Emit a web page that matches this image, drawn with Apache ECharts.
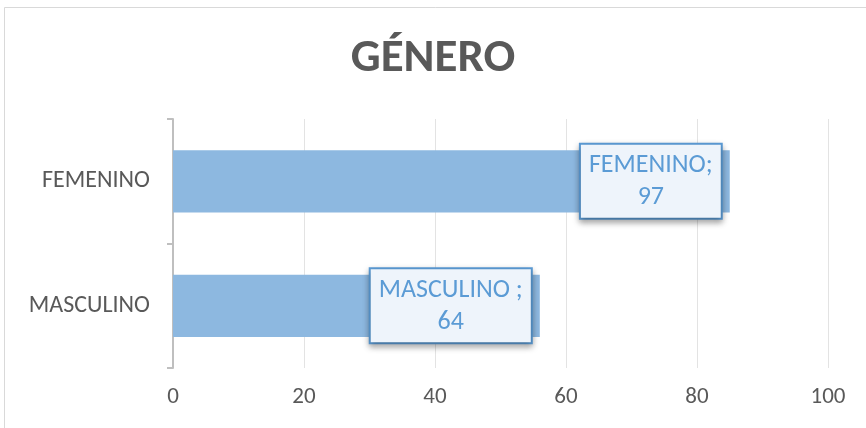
<!DOCTYPE html>
<html><head><meta charset="utf-8">
<script src="https://cdn.jsdelivr.net/npm/echarts@6/dist/echarts.min.js"></script>
<style>html,body{margin:0;padding:0;background:#fff;}#c{width:866px;height:428px;}</style>
</head><body><div id="c"></div>
<script>
const categories = ['FEMENINO', 'MASCULINO'];
const barValues = [85, 56];
const labelValues = [97, 64];
const labelNames = ['FEMENINO;', 'MASCULINO ;'];
const ticks = [0, 20, 40, 60, 80, 100];

const FONT = "Carlito, 'Liberation Sans Narrow', 'Open Sans', sans-serif";
const chart = echarts.init(document.getElementById('c'));
chart.setOption({
  animation: false,
  backgroundColor: '#fff',
  graphic: [{type:'rect', shape:{x:4.5,y:7.5,width:900,height:500}, style:{fill:'none', stroke:'#D9D9D9', lineWidth:1}, silent:true}],
  title: {text: 'GÉNERO', left: 'center', top: 31, textStyle:{fontFamily: FONT, fontSize: 47, fontWeight:'bold', color:'#595959'}},
  grid: {left: 173, right: 38, top: 119, bottom: 60},
  xAxis: {type:'value', min: ticks[0], max: ticks[ticks.length-1], interval: 20,
    axisLine:{show:false}, axisTick:{show:false},
    splitLine:{lineStyle:{color:'#E3E3E3', width:1}},
    axisLabel:{color:'#595959', fontFamily: FONT, fontSize: 23, margin: 18}},
  yAxis: {type:'category', data: categories, inverse: true,
    axisLine:{lineStyle:{color:'#BFBFBF', width:2}},
    axisTick:{show:true, length:6, lineStyle:{color:'#BFBFBF', width:2}},
    axisLabel:{color:'#595959', fontFamily: FONT, fontSize: 24, margin: 23}},
  series: [{type:'bar', barCategoryGap:'50%',
    data: barValues.map((v,i)=>({value:v, label:{formatter: '{a|' + labelNames[i] + '}\n{a|' + labelValues[i] + '}'}})),
    itemStyle:{color:'#8DB8E0'},
    label:{show:true, position:'insideRight', distance: 9, color:'#5B9BD5', fontFamily: FONT, fontSize: 26,
      lineHeight: 32, backgroundColor:'#EEF4FB', borderColor:'#5B9BD5', borderWidth:2,
      padding:[5,8,4,8], shadowColor:'rgba(0,0,0,0.3)', shadowBlur:6, shadowOffsetY:3,
      rich:{a:{align:'center', color:'#5B9BD5', fontFamily: FONT, fontSize: 26, lineHeight: 32}}}
  }]
});
</script></body></html>
